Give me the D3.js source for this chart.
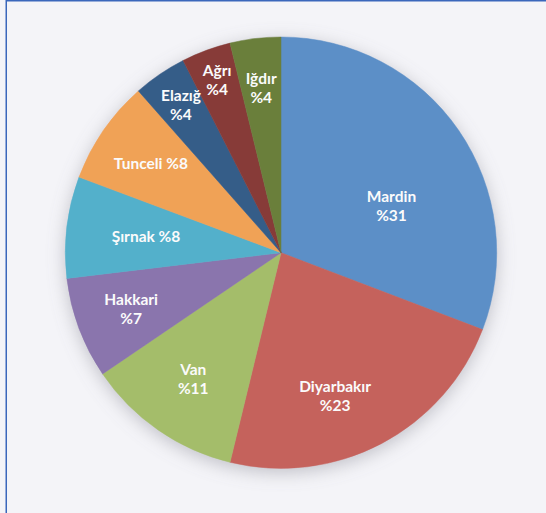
<!DOCTYPE html>
<html>
<head>
<meta charset="utf-8">
<script src="https://cdn.jsdelivr.net/npm/d3@7"></script>
<style>
  body { margin: 0; background: #f4f4f8; }
  svg { display: block; }
  .lbl { font-family: Lato, "Open Sans", sans-serif; font-weight: bold; font-size: 15.5px; fill: #fbfbfb; }
</style>
</head>
<body>
<svg width="546" height="513"></svg>
<script>
// slices, clockwise from 12 o'clock
var categories = ["Mardin", "Diyarbakır", "Van", "Hakkari", "Şırnak", "Tunceli", "Elazığ", "Ağrı", "Iğdır"];
var values = [30.8, 23.0, 11.7, 7.6, 7.6, 7.8, 4.0, 3.7, 3.8];
var percentLabels = ["%31", "%23", "%11", "%7", "%8", "%8", "%4", "%4", "%4"];
var oneLine = ["Şırnak", "Tunceli"];
var colors = ["#5b8fc7", "#c5625c", "#a4bd6a", "#8a74ad", "#53b0cb", "#f0a256", "#365d88", "#873a37", "#6b7f3b"];

var svg = d3.select("svg"),
    width = +svg.attr("width"),
    height = +svg.attr("height"),
    cx = 281, cy = 252.7, radius = 215.7;

// label placement (excel "best fit" isn't exactly the centroid)
var labelPos = {
    "Mardin": {r: 120, shift: 11.6},
    "Diyarbakır": {r: 153, shift: 7},
    "Van": {r: 154, shift: 0},
    "Hakkari": {r: 160, shift: 0},
    "Şırnak": {r: 136, shift: 0},
    "Tunceli": {r: 158, shift: 0},
    "Elazığ": {r: 178, shift: 0},
    "Ağrı": {r: 184, shift: 0},
    "Iğdır": {r: 166, shift: 0}
};

// border (top + left only)
svg.append("rect").attr("x", 6).attr("y", 0).attr("width", width - 6).attr("height", 1.5).attr("fill", "#3a67bb");
svg.append("rect").attr("x", 5.5).attr("y", 0).attr("width", 1.5).attr("height", height).attr("fill", "#3a67bb");

var defs = svg.append("defs");
var f = defs.append("filter").attr("id", "shadow")
    .attr("x", "-20%").attr("y", "-20%").attr("width", "140%").attr("height", "140%");
f.append("feDropShadow").attr("dx", 0).attr("dy", 4).attr("stdDeviation", 9)
    .attr("flood-color", "#80808c").attr("flood-opacity", 0.45);

var data = categories.map(function(c, i) { return {name: c, value: values[i], pct: percentLabels[i], color: colors[i]}; });

var pie = d3.pie().sort(null).value(function(d) { return d.value; });
var arc = d3.arc().innerRadius(0).outerRadius(radius);
var arcs = pie(data);

var g = svg.append("g").attr("transform", "translate(" + cx + "," + cy + ")");

g.append("g").attr("filter", "url(#shadow)")
  .selectAll("path")
  .data(arcs)
  .enter().append("path")
    .attr("d", arc)
    .attr("fill", function(d) { return d.data.color; })
    .attr("stroke", function(d) { return d.data.color; })
    .attr("stroke-width", 0.5);

var lbl = g.selectAll(".lbl")
  .data(arcs)
  .enter().append("text")
    .attr("class", "lbl")
    .attr("text-anchor", "middle")
    .attr("transform", function(d) {
        var p = labelPos[d.data.name];
        var a = (d.startAngle + d.endAngle) / 2 + p.shift * Math.PI / 180;
        return "translate(" + (Math.sin(a) * p.r) + "," + (-Math.cos(a) * p.r) + ")";
    });

lbl.each(function(d) {
    var t = d3.select(this);
    if (oneLine.indexOf(d.data.name) >= 0) {
        t.append("tspan").attr("x", 0).attr("dy", "0.35em").text(d.data.name + " " + d.data.pct);
    } else {
        t.append("tspan").attr("x", 0).attr("y", -9.5).attr("dy", "0.35em").text(d.data.name);
        t.append("tspan").attr("x", 0).attr("y", 9.5).attr("dy", "0.35em").text(d.data.pct);
    }
});
</script>
</body>
</html>
